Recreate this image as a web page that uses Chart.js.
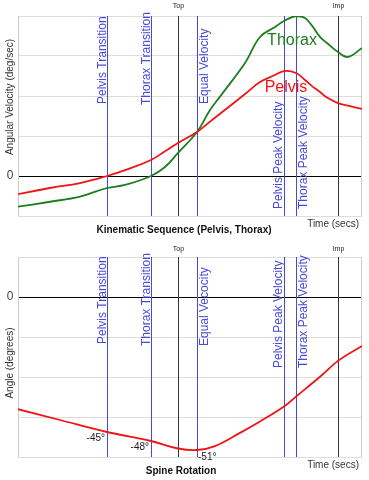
<!DOCTYPE html>
<html>
<head>
<meta charset="utf-8">
<script src="https://cdn.jsdelivr.net/npm/chart.js@4.4.1/dist/chart.umd.min.js"></script>
<style>
  body { margin: 0; background: #fff; }
  canvas { display: block; }
</style>
</head>
<body>
<canvas id="kin" width="369" height="240"></canvas>
<canvas id="spine" width="369" height="240"></canvas>
<script>
// time in ms from the start of the clip
const kinTime   = [0, 80, 155, 222.5, 267.5, 332.5, 367.5, 400, 447.5, 480, 505, 567.5, 605, 642.5, 665, 695, 717.5, 735, 755, 772.5, 800, 825, 860];
const pelvisVel = [-114, -75, -44, 0, 37, 100, 155, 206, 275, 340, 389, 512, 587, 631, 656, 644, 600, 562, 525, 490, 456, 440, 419];
const thoraxVel = [-192, -161, -129, -75, -56, 0, 56, 144, 275, 412, 496, 706, 869, 931, 969, 1000, 987, 940, 869, 831, 775, 744, 800];

const spineTime  = [0, 105, 222.5, 332.5, 400, 447.5, 492.5, 555, 605, 665, 695, 755, 800, 860];
const spineAngle = [-37.4, -41, -45, -48, -50.5, -51, -49.7, -45.3, -41.5, -36.5, -33.2, -26.6, -21.3, -16.3];

const eventNames = ['Pelvis Transition', 'Thorax Transition', 'Top', 'Equal Velocity', 'Pelvis Peak Velocity', 'Thorax Peak Velocity', 'Imp'];
const eventNames2 = ['Pelvis Transition', 'Thorax Transition', 'Top', 'Equal Vecocity', 'Pelvis Peak Velocity', 'Thorax Peak Velocity', 'Imp'];
const eventTimes = [222.5, 332.5, 400, 447.5, 665, 695, 800];

const spineMarkTimes  = [222.5, 332.5, 447.5];
const spineMarkLabels = ['-45°', '-48°', '-51°'];

const kinTicks = [-250, 0, 250, 500, 750, 1000];
const spineTicks = [-160 / 3, -40, -80 / 3, -40 / 3, 0, 40 / 3];

const FONT = '"Liberation Sans", Arial, sans-serif';
const BLUE = '#4848dc';
const RED = '#f01414';
const GREEN = '#1e7d1e';

function pts(xs, ys) {
  return xs.map((x, i) => ({ x: x, y: ys[i] }));
}

// event lines, frame and all the loose text
const overlay = {
  id: 'overlay',
  beforeDatasetsDraw(chart, args, o) {
    const { ctx, chartArea: a, scales: { x } } = chart;
    ctx.save();
    ctx.lineWidth = 1;
    ctx.strokeStyle = '#cccccc';
    ctx.beginPath();
    ctx.moveTo(a.left + 0.5, a.top); ctx.lineTo(a.left + 0.5, a.bottom);
    ctx.moveTo(a.right - 0.5, a.top); ctx.lineTo(a.right - 0.5, a.bottom);
    ctx.stroke();
    eventTimes.forEach((t, i) => {
      const px = Math.round(x.getPixelForValue(t)) + 0.5;
      const major = o.names[i] === 'Top' || o.names[i] === 'Imp';
      ctx.strokeStyle = major ? '#333333' : BLUE;
      ctx.beginPath();
      ctx.moveTo(px, a.top);
      ctx.lineTo(px, a.bottom);
      ctx.stroke();
    });
    ctx.restore();
  },
  afterDraw(chart, args, o) {
    const { ctx, chartArea: a, scales: { x, y } } = chart;
    ctx.save();
    // event labels
    eventTimes.forEach((t, i) => {
      const px = Math.round(x.getPixelForValue(t));
      const name = o.names[i];
      if (name === 'Top' || name === 'Imp') {
        ctx.font = '7px ' + FONT;
        ctx.fillStyle = '#222';
        ctx.textAlign = 'center';
        ctx.textBaseline = 'middle';
        ctx.fillText(name, px + 0.5, o.topLabelY);
        return;
      }
      ctx.save();
      ctx.font = '12px ' + FONT;
      ctx.fillStyle = BLUE;
      ctx.textAlign = 'left';
      ctx.textBaseline = 'alphabetic';
      const side = o.side[i];
      const bx = side < 0 ? px - (name.indexOf('Peak') >= 0 ? 2 : 1) : px + 11;
      ctx.translate(bx, o.labelStart[i]);
      ctx.rotate(-Math.PI / 2);
      ctx.fillText(name, 0, 0);
      ctx.restore();
    });
    // zero label
    ctx.font = '12px ' + FONT;
    ctx.fillStyle = '#444';
    ctx.textAlign = 'center';
    ctx.textBaseline = 'middle';
    ctx.fillText('0', 10, y.getPixelForValue(0));
    // y axis title
    ctx.save();
    ctx.font = '10px ' + FONT;
    ctx.fillStyle = '#333';
    ctx.translate(13, o.yTitleY);
    ctx.rotate(-Math.PI / 2);
    ctx.textAlign = 'center';
    ctx.textBaseline = 'alphabetic';
    ctx.fillText(o.yTitle, 0, 0);
    ctx.restore();
    // time label
    ctx.font = '10px ' + FONT;
    ctx.fillStyle = '#333';
    ctx.textAlign = 'right';
    ctx.fillText('Time (secs)', 359, a.bottom + 8);
    // title
    ctx.font = 'bold 10px ' + FONT;
    ctx.fillStyle = '#111';
    ctx.textAlign = 'center';
    ctx.fillText(o.title, o.titleX, a.bottom + 14.5);
    // series names / value marks
    (o.texts || []).forEach(tx => {
      ctx.font = tx.font;
      ctx.fillStyle = tx.color;
      ctx.textAlign = tx.align;
      ctx.textBaseline = tx.baseline;
      ctx.fillText(tx.text, x.getPixelForValue(tx.x) + tx.dx, y.getPixelForValue(tx.y) + tx.dy);
    });
    ctx.restore();
  }
};

function makeChart(id, datasets, ticks, pad, ov) {
  return new Chart(document.getElementById(id), {
    type: 'line',
    data: { datasets: datasets },
    options: {
      responsive: false,
      animation: false,
      events: [],
      layout: { padding: pad },
      plugins: { legend: { display: false }, tooltip: { enabled: false }, overlay: ov },
      elements: { point: { radius: 0 }, line: { tension: 0.4 } },
      scales: {
        x: { type: 'linear', min: 0, max: 860, display: false },
        y: {
          min: ticks[0],
          max: ticks[ticks.length - 1],
          afterBuildTicks: s => { s.ticks = ticks.map(v => ({ value: v })); },
          afterFit: s => { s.width = 0; },
          ticks: { display: false },
          grid: {
            drawTicks: false,
            color: c => Math.abs(c.tick.value) < 1e-6 ? '#000000' : '#dddddd'
          },
          border: { display: false }
        }
      }
    },
    plugins: [overlay]
  });
}

makeChart('kin', [
  { data: pts(kinTime, pelvisVel), borderColor: RED, borderWidth: 1.8 },
  { data: pts(kinTime, thoraxVel), borderColor: GREEN, borderWidth: 1.8 }
], kinTicks, { left: 18, right: 7, top: 16, bottom: 24 }, {
  names: eventNames,
  side: [-1, -1, 0, 1, -1, 1, 0],
  labelStart: [104, 105, 0, 104, 209, 209, 0],
  topLabelY: 6,
  yTitle: 'Angular Velocity (deg/sec)',
  yTitleY: 97,
  title: 'Kinematic Sequence (Pelvis, Thorax)',
  titleX: 184,
  texts: [
    { text: 'Thorax', x: 685, y: 819, dx: 0, dy: 0, font: '16px ' + FONT, color: GREEN, align: 'center', baseline: 'alphabetic' },
    { text: 'Pelvis', x: 670, y: 525, dx: 0, dy: 0, font: '16px ' + FONT, color: RED, align: 'center', baseline: 'alphabetic' }
  ]
});

makeChart('spine', [
  { data: pts(spineTime, spineAngle), borderColor: RED, borderWidth: 1.8 }
], spineTicks, { left: 18, right: 7, top: 17, bottom: 23 }, {
  names: eventNames2,
  side: [-1, -1, 0, 1, -1, 1, 0],
  labelStart: [104, 106, 0, 106, 128, 128, 0],
  topLabelY: 9,
  yTitle: 'Angle (degrees)',
  yTitleY: 123,
  title: 'Spine Rotation',
  titleX: 181,
  texts: spineMarkTimes.map((t, i) => ({
    text: spineMarkLabels[i], x: t, y: spineAngle[spineTime.indexOf(t)],
    dx: i < 2 ? -2 : 1, dy: i < 2 ? 6 : 7,
    font: '10px ' + FONT, color: '#222', align: i < 2 ? 'right' : 'left', baseline: 'middle'
  }))
});
</script>
</body>
</html>
